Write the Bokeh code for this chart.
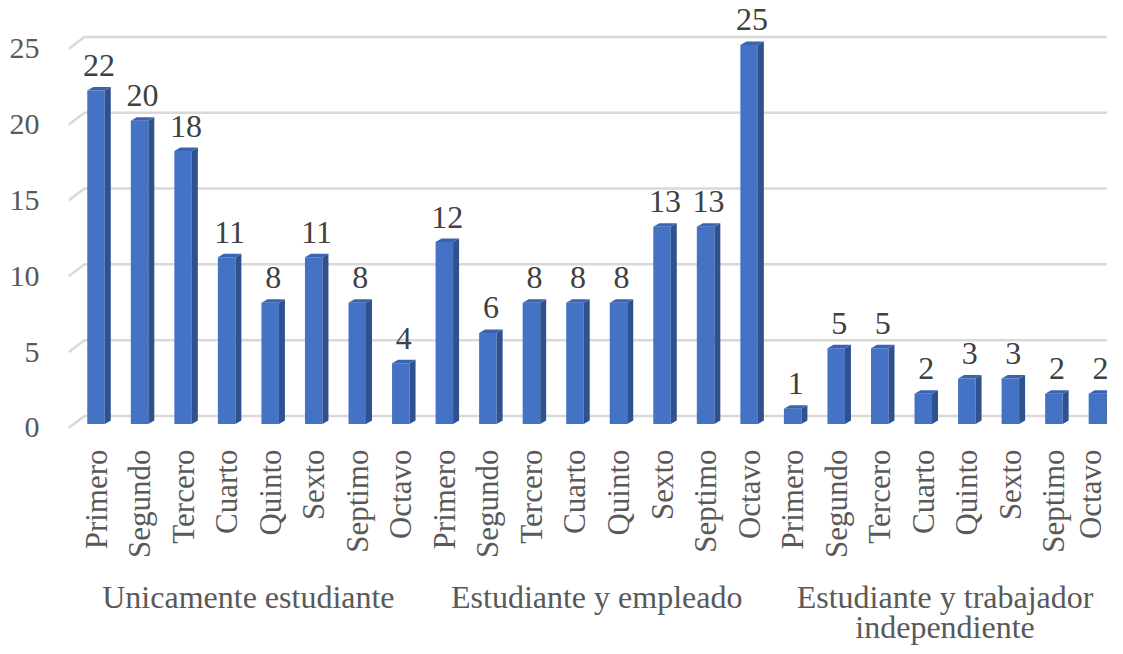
import numpy as np
from bokeh.plotting import figure
from bokeh.models import Range1d, FixedTicker, LinearAxis, ColumnDataSource
from bokeh.embed import file_html
from bokeh.resources import INLINE
from bokeh.core.properties import value

# ---------------- data ----------------
groups = ["Unicamente estudiante", "Estudiante y empleado",
          "Estudiante y trabajador\nindependiente"]
semesters = ["Primero", "Segundo", "Tercero", "Cuarto", "Quinto", "Sexto", "Septimo", "Octavo"]
unicamente_estudiante = [22, 20, 18, 11, 8, 11, 8, 4]
estudiante_empleado = [12, 6, 8, 8, 8, 13, 13, 25]
estudiante_independiente = [1, 5, 5, 2, 3, 3, 2, 2]
y_ticks = [0, 5, 10, 15, 20, 25]

series = [unicamente_estudiante, estudiante_empleado, estudiante_independiente]

# ---------------- geometry (pixel scale -> data units) ----------------
KX = 43.54   # px per category
KY = 15.16   # px per unit value
LEFT_BORDER = 68
TOP_BORDER = 8
FRAME_W = 1107 - LEFT_BORDER
FRAME_H = 424
X0 = -0.632
Y0 = -0.3
X1 = X0 + FRAME_W / KX
Y1 = Y0 + FRAME_H / KY

W = 17.5 / KX          # bar front width
SDX = 6.0 / KX         # bar depth (x)
SDY = 3.5 / KY         # bar depth (y)
BY = 4.0 / KY          # bar plane shift above front plane
GDX = 16.0 / KX        # back wall shift
GDY = 12.0 / KY

FONT = "Liberation Serif"
FRONT = "#4472C4"
SIDE = "#2F528F"
TOP = "#3A64B3"

xs_idx, vals, labels = [], [], []
n = len(semesters)
for g, s in enumerate(series):
    for i, v in enumerate(s):
        xs_idx.append(g * n + i)
        vals.append(v)
        labels.append(semesters[i])
xs_idx = np.array(xs_idx, dtype=float)
vals = np.array(vals, dtype=float)

p = figure(frame_width=FRAME_W, frame_height=FRAME_H,
           x_range=Range1d(X0, X1), y_range=Range1d(Y0, Y1),
           output_backend="svg", toolbar_location=None,
           min_border_left=LEFT_BORDER, min_border_right=0,
           min_border_top=TOP_BORDER, min_border_bottom=0)
p.outline_line_color = None
p.grid.visible = False
p.background_fill_color = "white"
p.border_fill_color = "white"

# back-wall gridlines
gx, gy = [], []
for t in y_ticks:
    gx.append([X0, X0 + GDX, X1 + 1])
    gy.append([t, t + GDY, t + GDY])
p.multi_line(gx, gy, line_color="#D9D9D9", line_width=2.5)

# bars
left = xs_idx - W / 2
right = xs_idx + W / 2
bottom = np.full_like(vals, BY)
top = vals + BY
p.quad(left=left, right=right, bottom=bottom, top=top,
       fill_color=FRONT, line_color=None)
side_x = [[r, r + SDX, r + SDX, r] for r in right]
side_y = [[BY, BY + SDY, t + SDY, t] for t in top]
p.patches(side_x, side_y, fill_color=SIDE, line_color=None)
top_x = [[l, l + SDX, r + SDX, r] for l, r in zip(left, right)]
top_y = [[t, t + SDY, t + SDY, t] for t in top]
p.patches(top_x, top_y, fill_color=TOP, line_color=None)

# data labels
src = ColumnDataSource(dict(x=xs_idx + SDX / 2, y=top + 25.0 / KY,
                            t=[str(int(v)) for v in vals]))
p.text(x="x", y="y", text="t", source=src, text_align="center",
       text_baseline="alphabetic", text_font=value(FONT),
       text_font_size="32px", text_color="#404040")

# y axis
ya = p.yaxis[0]
ya.ticker = FixedTicker(ticks=y_ticks)
ya.axis_line_color = None
ya.major_tick_line_color = None
ya.minor_tick_line_color = None
ya.major_label_standoff = 23
ya.major_label_text_font = FONT
ya.major_label_text_font_size = "30px"
ya.major_label_text_color = "#595959"

# x axis (semesters)
xa = p.xaxis[0]
xa.ticker = FixedTicker(ticks=[int(v) for v in xs_idx])
xa.major_label_overrides = {int(i): lab for i, lab in zip(xs_idx, labels)}
xa.major_label_orientation = np.pi / 2
xa.axis_line_color = None
xa.major_tick_line_color = None
xa.minor_tick_line_color = None
xa.major_label_standoff = 11
xa.major_label_text_font = FONT
xa.major_label_text_font_size = "31px"
xa.major_label_text_color = "#595959"

# group axis
centers = [g * n + (n - 1) / 2 for g in range(len(groups))]
ga = LinearAxis(ticker=FixedTicker(ticks=centers),
                major_label_overrides={c: name for c, name in zip(centers, groups)})
ga.axis_line_color = None
ga.major_tick_line_color = None
ga.minor_tick_line_color = None
ga.major_label_standoff = 11
ga.major_label_text_font = FONT
ga.major_label_text_font_size = "32px"
ga.major_label_text_color = "#595959"
ga.major_label_text_line_height = 0.85
p.add_layout(ga, "below")

open("out.html", "w").write(file_html(p, INLINE))
